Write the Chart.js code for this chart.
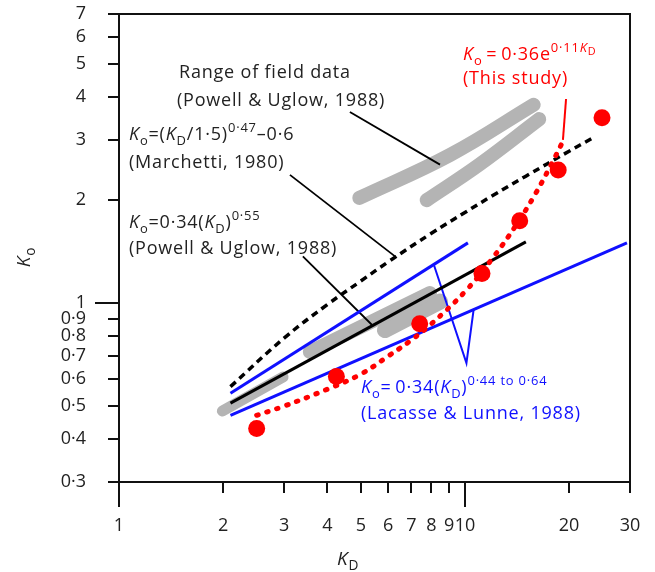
<!DOCTYPE html>
<html>
<head>
<meta charset="utf-8">
<script src="https://cdn.jsdelivr.net/npm/chart.js@4"></script>
<style>
  html, body { margin: 0; padding: 0; background: #fff; }
  #wrap { width: 655px; height: 572px; position: relative; }
</style>
</head>
<body>
<div id="wrap"><canvas id="myChart"></canvas></div>
<script>
/* ---------------- data ---------------- */
const xTicks = [1, 2, 3, 4, 5, 6, 7, 8, 9, 10, 20, 30];
const yTicks = [0.3, 0.4, 0.5, 0.6, 0.7, 0.8, 0.9, 1, 2, 3, 4, 5, 6, 7];

// this study - measured points
const studyKD = [2.5, 4.25, 7.4, 11.2, 14.4, 18.6, 24.9];
const studyKo = [0.43, 0.61, 0.87, 1.22, 1.74, 2.45, 3.48];
// this study - fitted curve (red dotted)
const fitKD = [2.5, 3, 4, 5, 6, 7, 8, 10, 12, 14, 16, 18, 19];
const fitKo = [0.47, 0.50, 0.56, 0.62, 0.70, 0.78, 0.87, 1.08, 1.35, 1.68, 2.09, 2.61, 2.91];

// Marchetti 1980 (black dotted)
const marchKD = [2.1, 3, 4, 5, 6, 8, 10, 12, 15, 20, 23.3];
const marchKo = [0.57, 0.79, 0.99, 1.16, 1.32, 1.60, 1.84, 2.06, 2.35, 2.78, 3.03];

// Powell & Uglow 1988 (black solid)
const powellKD = [2.1, 15];
const powellKo = [0.51, 1.51];

// Lacasse & Lunne 1988 (blue bounds)
const lacUpKD = [2.1, 10.2];
const lacUpKo = [0.545, 1.50];
const lacLoKD = [2.1, 29.4];
const lacLoKo = [0.47, 1.50];

// field data bands (grey)
const fieldAKD = [4.95, 9.05, 15.8];
const fieldAKo = [2.03, 2.71, 3.80];
const fieldBKD = [7.75, 11.0, 16.4];
const fieldBKo = [2.00, 2.54, 3.45];
const fieldCKD = [1.99, 2.98];
const fieldCKo = [0.484, 0.608];
const fieldEKD = [3.56, 7.92];
const fieldEKo = [0.72, 1.07];
const fieldDKD = [5.87, 8.47];
const fieldDKo = [0.834, 1.01];

// leader lines
const leadFieldKD = [4.65, 8.47];
const leadFieldKo = [3.62, 2.54];
const leadMarchKD = [3.12, 6.28];
const leadMarchKo = [2.37, 1.37];
const leadPowellKD = [3.40, 5.39];
const leadPowellKo = [1.37, 0.863];
const leadLacKD = [8.14, 10.1, 10.6];
const leadLacKo = [1.29, 0.668, 0.96];
const leadStudyKD = [19.6, 19.2];
const leadStudyKo = [3.95, 3.0];

/* ---------------- helpers ---------------- */
const FONT = 'Open Sans';
const RED = '#ff0000';
const BLUE = '#1010ff';
const GREY = '#b4b4b4';

function pts(xs, ys) {
  return xs.map((x, i) => ({ x: x, y: ys[i] }));
}

function line(xs, ys, color, width, extra) {
  return Object.assign({
    data: pts(xs, ys),
    showLine: true,
    borderColor: color,
    borderWidth: width,
    pointRadius: 0,
    fill: false
  }, extra || {});
}

function band(xs, ys, width) {
  return line(xs, ys, GREY, width, { borderCapStyle: 'round', borderJoinStyle: 'round', tension: 0.4, order: 10 });
}

function partFont(p, size) {
  let s = size, dy = 0;
  if (p.sub) { s = size * 0.72; dy = size * 0.28; }
  if (p.sup) { s = size * 0.72; dy = -size * 0.42; }
  if (p.supsub) { s = size * 0.6; dy = -size * 0.28; }
  return { font: (p.i ? 'italic ' : '') + s + 'px "' + FONT + '"', dy: dy };
}

function drawRich(ctx, x, y, parts, size, color) {
  ctx.fillStyle = color;
  ctx.textAlign = 'left';
  ctx.textBaseline = 'alphabetic';
  ctx.letterSpacing = '0.8px';
  for (const p of parts) {
    const f = partFont(p, size);
    ctx.font = f.font;
    ctx.fillText(p.t, x, y + f.dy);
    x += ctx.measureText(p.t).width;
  }
  return x;
}

function richWidth(ctx, parts, size) {
  let w = 0;
  ctx.letterSpacing = '0.8px';
  for (const p of parts) {
    ctx.font = partFont(p, size).font;
    w += ctx.measureText(p.t).width;
  }
  return w;
}

const fmt = v => String(v).replace('.', '\u00b7');

/* ---------------- frame, ticks, annotations ---------------- */
const decor = {
  id: 'decor',
  afterDraw(chart) {
    const ctx = chart.ctx;
    const a = chart.chartArea;
    const xs = chart.scales.x, ys = chart.scales.y;
    ctx.save();
    ctx.strokeStyle = '#111';
    ctx.lineWidth = 2;
    ctx.strokeRect(a.left, a.top, a.right - a.left, a.bottom - a.top);
    ctx.beginPath();
    yTicks.forEach(v => {
      const y = Math.round(ys.getPixelForValue(v));
      const len = v === 1 ? 24 : 11;
      ctx.moveTo(a.left - len, y);
      ctx.lineTo(a.left, y);
    });
    xTicks.forEach(v => {
      const x = Math.round(xs.getPixelForValue(v));
      const len = (v === 1 || v === 10) ? 25 : 11;
      ctx.moveTo(x, a.bottom);
      ctx.lineTo(x, a.bottom + len);
    });
    ctx.stroke();

    const S = 18;
    const dark = '#222';
    // axis titles
    drawRich(ctx, 337, 565, [{ t: 'K', i: 1 }, { t: 'D', sub: 1 }], 19, dark);
    const yt = [{ t: 'K', i: 1 }, { t: 'o', sub: 1 }];
    ctx.save();
    ctx.translate(30, 257);
    ctx.rotate(-Math.PI / 2);
    drawRich(ctx, -richWidth(ctx, yt, 19) / 2, 0, yt, 19, dark);
    ctx.restore();

    // labels
    drawRich(ctx, 179, 78, [{ t: 'Range of field data' }], S, dark);
    drawRich(ctx, 177, 106, [{ t: '(Powell & Uglow, 1988)' }], S, dark);

    drawRich(ctx, 129, 140, [{ t: 'K', i: 1 }, { t: 'o', sub: 1 }, { t: '=(' }, { t: 'K', i: 1 },
      { t: 'D', sub: 1 }, { t: '/1\u00b75)' }, { t: '0\u00b747', sup: 1 }, { t: '\u20130\u00b76' }], S, dark);
    drawRich(ctx, 129, 168, [{ t: '(Marchetti, 1980)' }], S, dark);

    drawRich(ctx, 129, 228, [{ t: 'K', i: 1 }, { t: 'o', sub: 1 }, { t: '=0\u00b734(' }, { t: 'K', i: 1 },
      { t: 'D', sub: 1 }, { t: ')' }, { t: '0\u00b755', sup: 1 }], S, dark);
    drawRich(ctx, 129, 254, [{ t: '(Powell & Uglow, 1988)' }], S, dark);

    drawRich(ctx, 463, 60, [{ t: 'K', i: 1 }, { t: 'o', sub: 1 }, { t: '\u2009=\u20090\u00b736e' },
      { t: '0\u00b711', sup: 1 }, { t: 'K', sup: 1, i: 1 }, { t: 'D', supsub: 1 }], S, RED);
    drawRich(ctx, 463, 84, [{ t: '(This study)' }], S, RED);

    drawRich(ctx, 361, 393, [{ t: 'K', i: 1 }, { t: 'o', sub: 1 }, { t: '=\u20090\u00b734(' }, { t: 'K', i: 1 },
      { t: 'D', sub: 1 }, { t: ')' }, { t: '0\u00b744 to 0\u00b764', sup: 1 }], S, BLUE);
    drawRich(ctx, 361, 419, [{ t: '(Lacasse & Lunne, 1988)' }], S, BLUE);
    ctx.restore();
  }
};

/* ---------------- chart ---------------- */
const datasets = [
  { data: pts(studyKD, studyKo), pointRadius: 8.5, pointBackgroundColor: RED, pointBorderWidth: 0, showLine: false, order: 0 },
  line(fitKD, fitKo, RED, 5, { borderDash: [1.5, 9], borderCapStyle: 'round', tension: 0.4, order: 1 }),
  line(leadStudyKD, leadStudyKo, RED, 2, { order: 1 }),
  line(marchKD, marchKo, '#000', 3.5, { borderDash: [7, 5], tension: 0.4, order: 2 }),
  line(powellKD, powellKo, '#000', 3, { order: 2 }),
  line(lacUpKD, lacUpKo, BLUE, 3, { order: 3 }),
  line(lacLoKD, lacLoKo, BLUE, 3, { order: 3 }),
  line(leadLacKD, leadLacKo, BLUE, 2, { order: 3 }),
  line(leadFieldKD, leadFieldKo, '#000', 1.8, { order: 4 }),
  line(leadMarchKD, leadMarchKo, '#000', 1.8, { order: 4 }),
  line(leadPowellKD, leadPowellKo, '#000', 1.8, { order: 4 }),
  band(fieldAKD, fieldAKo, 14),
  band(fieldBKD, fieldBKo, 14),
  band(fieldCKD, fieldCKo, 11),
  band(fieldEKD, fieldEKo, 14),
  band(fieldDKD, fieldDKo, 16)
];

const tickFont = { family: FONT, size: 18 };

function noPad(s) {
  s.paddingTop = 0; s.paddingBottom = 0; s.paddingLeft = 0; s.paddingRight = 0;
}

new Chart(document.getElementById('myChart'), {
  type: 'scatter',
  data: { datasets: datasets },
  options: {
    responsive: true,
    maintainAspectRatio: false,
    animation: false,
    layout: { padding: { top: 14, right: 25, left: 0, bottom: 0 } },
    plugins: { legend: { display: false }, tooltip: { enabled: false } },
    scales: {
      x: {
        type: 'logarithmic', min: 1, max: 30,
        grid: { display: false, drawTicks: false },
        border: { display: false },
        afterBuildTicks: s => { s.ticks = xTicks.map(v => ({ value: v })); },
        afterFit: s => { s.height = 90; noPad(s); },
        ticks: { autoSkip: false, maxRotation: 0, padding: 33, color: '#222', font: tickFont, callback: v => fmt(v) }
      },
      y: {
        type: 'logarithmic', min: 0.3, max: 7,
        grid: { display: false, drawTicks: false },
        border: { display: false },
        afterBuildTicks: s => { s.ticks = yTicks.map(v => ({ value: v })); },
        afterFit: s => { s.width = 119; noPad(s); },
        ticks: { autoSkip: false, padding: 33, color: '#222', font: tickFont, callback: v => fmt(v) }
      }
    }
  },
  plugins: [decor]
});
</script>
</body>
</html>
